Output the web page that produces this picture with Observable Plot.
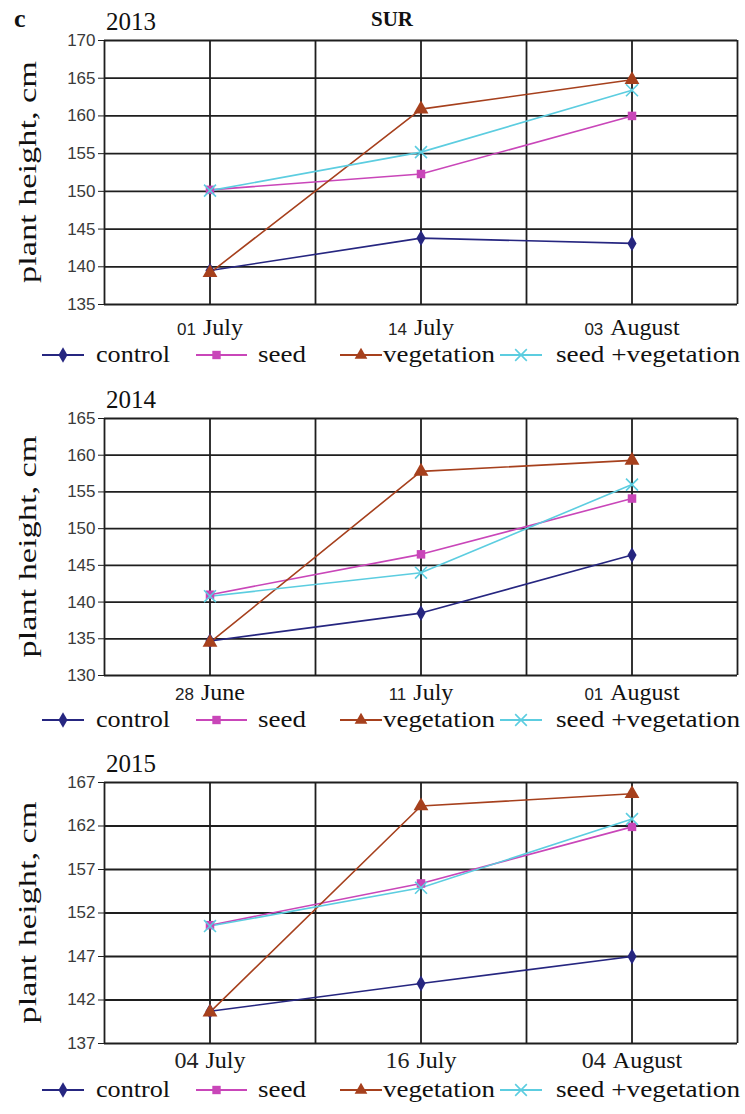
<!DOCTYPE html>
<html><head><meta charset="utf-8">
<script src="https://cdn.jsdelivr.net/npm/d3@7"></script>
<script src="https://cdn.jsdelivr.net/npm/@observablehq/plot@0.6"></script>
<style>
body{margin:0;background:#fff;}
#wrap{position:relative;width:745px;height:1114px;overflow:hidden;background:#fff;}
#wrap > *{position:absolute;left:0;}
</style></head><body><div id="wrap"></div>
<script>
// ---- data ----
const series = ["control", "seed", "vegetation", "seed +vegetation"];
const years = ["2013", "2014", "2015"];
const dayNums = [["01", "14", "03"], ["28", "11", "01"], ["04", "16", "04"]];
const months = [["July", "July", "August"], ["June", "July", "August"], ["July", "July", "August"]];
const control    = [[139.5, 143.8, 143.1], [134.7, 138.5, 146.4], [140.7, 143.9, 147.0]];
const seed       = [[150.2, 152.3, 160.0], [141.0, 146.5, 154.1], [150.6, 155.4, 161.9]];
const vegetation = [[139.2, 160.9, 164.8], [134.5, 157.8, 159.3], [140.6, 164.3, 165.7]];
const seedVeg    = [[150.1, 155.2, 163.4], [140.8, 144.0, 156.0], [150.5, 154.9, 162.8]];
const yTicks = [
  [135, 140, 145, 150, 155, 160, 165, 170],
  [130, 135, 140, 145, 150, 155, 160, 165],
  [137, 142, 147, 152, 157, 162, 167]
];
const yLabel = "plant height, cm";

// ---- style / layout ----
const colors = ["#262680", "#c946b9", "#a6401d", "#5ccde0"];
const symbols = ["diamond", "square", "triangle", "times"];
const plotTop = [40, 418, 782];
const plotBottom = [304, 675, 1043];
const numSerif = [false, false, true];
const labelDy = [23, 17, 17];
const legendDy = [51, 45, 47];
const serif = "'Liberation Serif','Times New Roman',serif";
const sans = "'Liberation Sans Narrow','Liberation Sans',Arial,sans-serif";
const W = 745;
const wrap = document.getElementById("wrap");
const allSeries = [control, seed, vegetation, seedVeg];
const slotX = [1, 3, 5];

const ctx = document.createElement("canvas").getContext("2d");
function tw(t, font) { ctx.font = font; return ctx.measureText(t).width; }

years.forEach((yr, p) => {
  const rows = [];
  series.forEach((s, k) => allSeries[k][p].forEach((v, i) => rows.push({s, k, x: slotX[i], v})));
  const ticks = yTicks[p];
  const ymin = d3.min(ticks), ymax = d3.max(ticks);
  const mt = 40, mb = 44;
  const h = plotBottom[p] - plotTop[p];
  const marks = [
    Plot.ruleY(ticks, {stroke: "#1e1e1e", strokeWidth: 1.8}),
    Plot.ruleX(d3.range(0, 7), {stroke: "#1e1e1e", strokeWidth: 1.8}),
    Plot.axisY({ticks, tickSize: 6, tickPadding: 3, fontSize: 17, fontFamily: sans, color: "#3a3a3a", label: null, stroke: "#1e1e1e"}),
  ];
  series.forEach((s, k) => {
    const d = rows.filter(r => r.k === k);
    marks.push(Plot.line(d, {x: "x", y: "v", stroke: colors[k], strokeWidth: 1.6}));
  });
  series.forEach((s, k) => {
    const d = rows.filter(r => r.k === k);
    if (symbols[k] === "times")
      marks.push(Plot.dot(d, {x: "x", y: "v", symbol: "times", r: 5.5, stroke: colors[k], strokeWidth: 1.6}));
    else
      marks.push(Plot.dot(d, {x: "x", y: "v", symbol: symbols[k], r: symbols[k] === "triangle" ? 5.5 : 4.8, fill: colors[k], stroke: "none"}));
  });
  // x tick labels: number + month
  const nSize = numSerif[p] ? 24 : 17;
  const nf = `${nSize}px ${numSerif[p] ? serif : sans}`;
  const mf = `24px ${serif}`;
  dayNums[p].forEach((n, i) => {
    const m = months[p][i];
    const gap = 7;
    const wn = tw(n, nf), wm = tw(m, mf);
    const tot = wn + gap + wm;
    marks.push(Plot.text([{x: slotX[i], y: ymin, t: n}], {x: "x", y: "y", text: "t", textAnchor: "start", dx: -tot / 2, dy: labelDy[p] + (numSerif[p] ? 0 : 2), fontSize: nSize, fontFamily: numSerif[p] ? serif : sans, fill: "#222"}));
    marks.push(Plot.text([{x: slotX[i], y: ymin, t: m}], {x: "x", y: "y", text: "t", textAnchor: "start", dx: -tot / 2 + wn + gap, dy: labelDy[p], fontSize: 24, fontFamily: serif, fill: "#111"}));
  });
  const chart = Plot.plot({
    width: W, height: mt + h + mb,
    marginTop: mt, marginBottom: mb, marginLeft: 104, marginRight: 8,
    x: {domain: [0, 6], axis: null},
    y: {domain: [ymin, ymax], axis: null},
    style: {background: "transparent", overflow: "visible"},
    marks
  });
  chart.style.top = (plotTop[p] - mt) + "px";
  wrap.appendChild(chart);

  // overlay: year title, y label, legend
  const ov = d3.create("svg").attr("width", W).attr("height", 1114).style("top", "0px").style("overflow", "visible");
  ov.append("text").attr("x", 106).attr("y", plotTop[p] - 10).attr("font-family", serif).attr("font-size", 25).attr("fill", "#111").text(yr);
  const cy = (plotTop[p] + plotBottom[p]) / 2;
  ov.append("text").attr("transform", `translate(36,${cy}) rotate(-90)`).attr("text-anchor", "middle")
    .attr("font-family", serif).attr("font-size", 26).attr("fill", "#111")
    .attr("textLength", 222).attr("lengthAdjust", "spacingAndGlyphs").text(yLabel);
  // legend
  const ly = plotBottom[p] + legendDy[p];
  const items = [
    {x1: 42, x2: 84, tx: 96, tl: 74},
    {x1: 196, x2: 247, tx: 258, tl: 48},
    {x1: 340, x2: 382, tx: 383, tl: 112},
    {x1: 500, x2: 542, tx: 556, tl: 184}
  ];
  series.forEach((s, k) => {
    const it = items[k];
    const g = ov.append("g");
    g.append("line").attr("x1", it.x1).attr("x2", it.x2).attr("y1", ly).attr("y2", ly).attr("stroke", colors[k]).attr("stroke-width", 2);
    const cx = (it.x1 + it.x2) / 2 - (k === 1 ? 5 : 0);
    const sym = d3.symbol().type([d3.symbolDiamond, d3.symbolSquare, d3.symbolTriangle, d3.symbolTimes][k]).size(k === 3 ? 90 : 70)();
    if (k === 3) g.append("path").attr("d", sym).attr("transform", `translate(${cx},${ly})`).attr("fill", "none").attr("stroke", colors[k]).attr("stroke-width", 1.6);
    else g.append("path").attr("d", sym).attr("transform", `translate(${cx},${ly})`).attr("fill", colors[k]);
    g.append("text").attr("x", it.tx).attr("y", ly + 7).attr("font-family", serif).attr("font-size", 24).attr("fill", "#111")
      .attr("textLength", it.tl).attr("lengthAdjust", "spacingAndGlyphs").text(s);
  });
  wrap.appendChild(ov.node());
});

// header
const hd = d3.create("svg").attr("width", W).attr("height", 40).style("top", "0px");
hd.append("text").attr("x", 14).attr("y", 27).attr("font-family", serif).attr("font-weight", "bold").attr("font-size", 26).attr("fill", "#111").text("c");
hd.append("text").attr("x", 392).attr("y", 26).attr("text-anchor", "middle").attr("font-family", serif).attr("font-weight", "bold").attr("font-size", 21).attr("fill", "#111").text("SUR");
wrap.appendChild(hd.node());
</script></body></html>
